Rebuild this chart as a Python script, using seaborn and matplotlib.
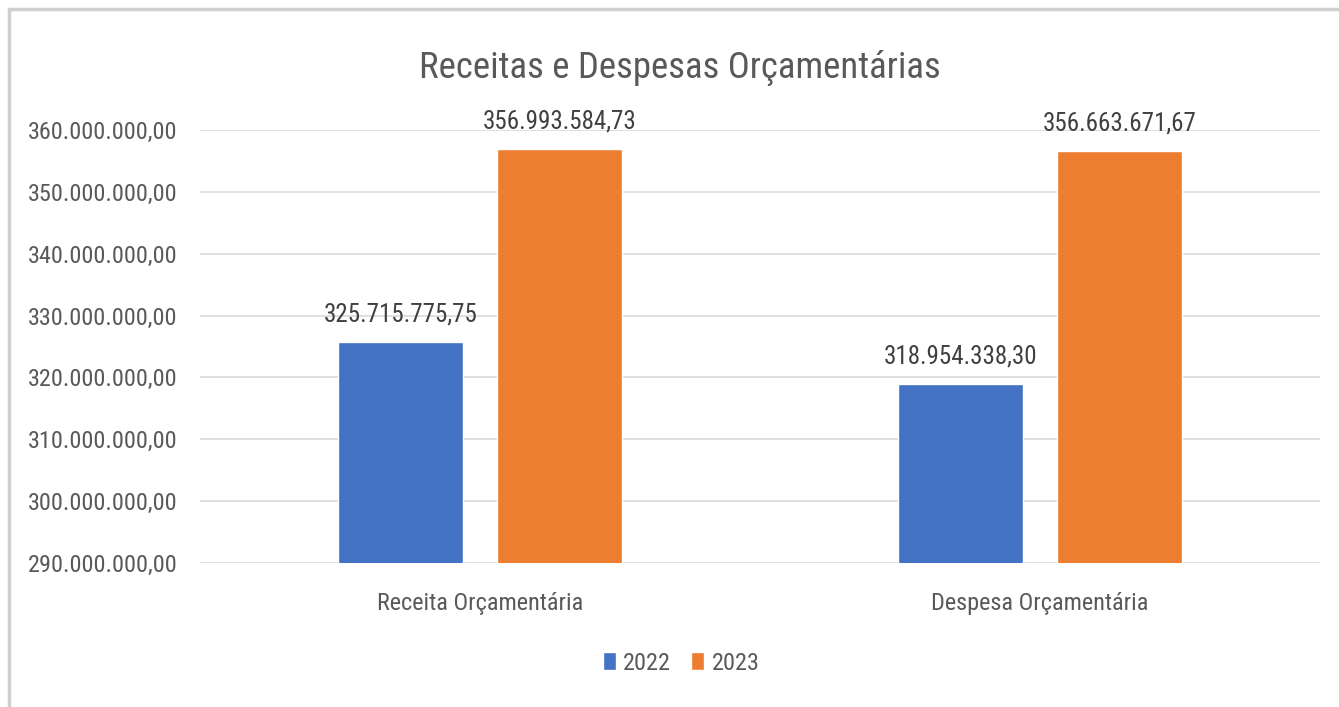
import pandas as pd
import matplotlib.pyplot as plt
import matplotlib.ticker as mticker
from matplotlib.patches import Rectangle
import seaborn as sns

# -------------------------------
# Data
# -------------------------------
categorias = ["Receita Orçamentária", "Despesa Orçamentária"]
anos = ["2022", "2023"]
valores_2022 = [325715775.75, 318954338.30]
valores_2023 = [356993584.73, 356663671.67]

df = pd.DataFrame({
    "Categoria": categorias * 2,
    "Ano": [anos[0]] * 2 + [anos[1]] * 2,
    "Valor": valores_2022 + valores_2023,
})


def fmt_br(v, pos=None):
    s = f"{v:,.2f}"
    return s.replace(",", "X").replace(".", ",").replace("X", ".")


sns.set_style("white")
plt.rcParams["font.family"] = ["Roboto Condensed", "Lato", "DejaVu Sans"]

cor_texto = "#595959"
fig = plt.figure(figsize=(13.39, 7.07), dpi=100)
ax = fig.add_axes([200 / 1339, 1 - 563 / 707, 1120 / 1339, 433 / 707])

sns.barplot(data=df, x="Categoria", y="Valor", hue="Ano",
            palette=["#4472C4", "#ED7D31"], width=0.566, gap=0.21,
            saturation=1, ax=ax)

ax.set_ylim(290000000, 360000000)
ax.set_xlim(-0.5, 1.5)
ax.yaxis.set_major_locator(mticker.MultipleLocator(10000000))
ax.yaxis.set_major_formatter(mticker.FuncFormatter(fmt_br))
ax.grid(axis="y", color="#d9d9d9", linewidth=1.2)
ax.set_axisbelow(True)
for s in ax.spines.values():
    s.set_visible(False)
ax.tick_params(axis="y", length=0, pad=16, labelsize=17.5, labelcolor=cor_texto)
ax.tick_params(axis="x", length=0, pad=21, labelsize=17.5, labelcolor=cor_texto)
ax.set_xlabel("")
ax.set_ylabel("")

for cont in ax.containers:
    ax.bar_label(cont, labels=[fmt_br(b.get_height()) for b in cont],
                 padding=11, fontsize=18, color="#404040")

ax.legend(loc="center", bbox_to_anchor=(681 / 1339, 1 - 663 / 707),
          bbox_transform=fig.transFigure, ncol=2, frameon=False,
          fontsize=17.5, labelcolor=cor_texto, handlelength=0.55,
          handleheight=0.75, handletextpad=0.3, columnspacing=0.8)

fig.text(680 / 1339, 1 - 68 / 707, "Receitas e Despesas Orçamentárias",
         ha="center", va="center", fontsize=26.5, color=cor_texto)

# moldura do gráfico
fig.add_artist(Rectangle((9 / 1339, -0.1), 1.2, 1 - 9 / 707 + 0.1,
                         transform=fig.transFigure, fill=False,
                         edgecolor="#d0d0d0", linewidth=2.5))

fig.savefig("out.png", dpi=100)
